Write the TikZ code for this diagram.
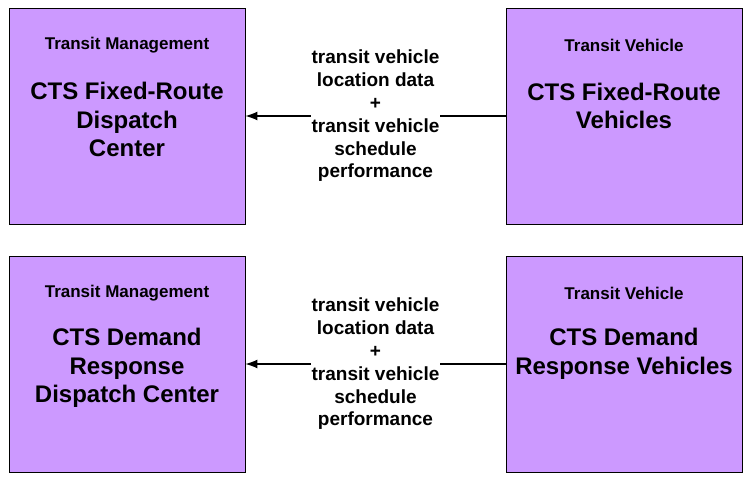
\documentclass[tikz,border=0pt]{standalone}
\usepackage{fontspec}
\setmainfont{Liberation Sans}
\usetikzlibrary{arrows.meta}
\definecolor{boxfill}{RGB}{204,153,255}
\tikzset{
  sysbox/.style={draw=black, line width=0.9pt, fill=boxfill, minimum width=236pt, minimum height=216pt, inner sep=0pt},
  cattext/.style={font=\bfseries\fontsize{17}{20}\selectfont, align=center, inner sep=0pt},
  maintext/.style={font=\bfseries\fontsize{24}{28.5}\selectfont, align=center, inner sep=0pt},
  flowlabel/.style={font=\bfseries\fontsize{19}{22.8}\selectfont, align=center, fill=white, inner xsep=0.5pt, inner ysep=0pt},
  flowline/.style={line width=1.2pt, -{Latex[length=12pt,width=9pt]}}
}
\begin{document}
\begin{tikzpicture}[x=1pt,y=-1pt]
\useasboundingbox (0,0) rectangle (743,476);
% boxes
\node[sysbox] (tl) at (127,116) {};
\node[sysbox] (tr) at (624,116) {};
\node[sysbox] (bl) at (127,364) {};
\node[sysbox] (br) at (624,364) {};
% texts top-left
\node[cattext] (tlc) at (127,45.5) {Transit Management};
\node[maintext] (tlm) at (127,119.5) {CTS Fixed-Route\\Dispatch\\Center};
% top-right
\node[cattext] (trc) at (624,45.5) {Transit Vehicle};
\node[maintext] (trm) at (624,106) {CTS Fixed-Route\\Vehicles};
% bottom-left
\node[cattext] (blc) at (127,293.5) {Transit Management};
\node[maintext] (blm) at (127,368) {CTS Demand\\Response\\Dispatch Center};
% bottom-right
\node[cattext] (brc) at (624,293.5) {Transit Vehicle};
\node[maintext] (brm) at (624,354) {CTS Demand\\Response Vehicles};
% flows
\draw[flowline] (tr.west) -- node[flowlabel, pos=0.5] (f1) {transit vehicle\\location data\\+\\transit vehicle\\schedule\\performance} (tl.east);
\draw[flowline] (br.west) -- node[flowlabel, pos=0.5] (f2) {transit vehicle\\location data\\+\\transit vehicle\\schedule\\performance} (bl.east);
\end{tikzpicture}
\end{document}
